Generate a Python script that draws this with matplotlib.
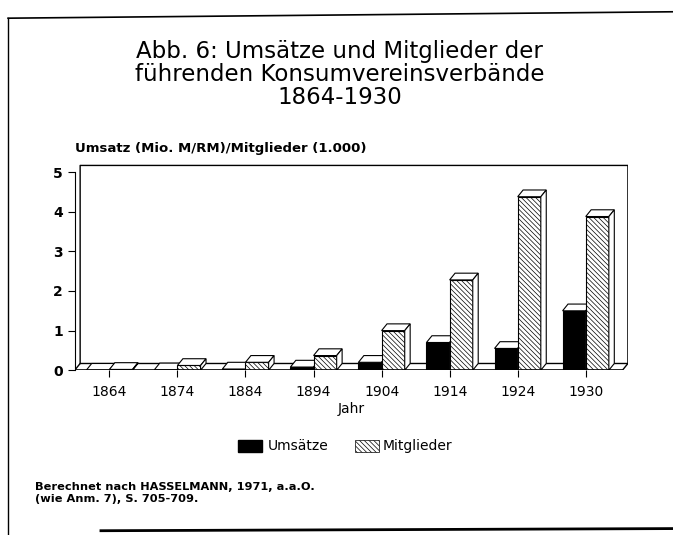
import numpy as np
import matplotlib
matplotlib.use("Agg")
import matplotlib.pyplot as plt
from matplotlib.patches import Polygon, Rectangle
from matplotlib.lines import Line2D

plt.rcParams['font.family'] = ['DejaVu Sans']
plt.rcParams['hatch.linewidth'] = 0.5

# Data
years = ["1864", "1874", "1884", "1894", "1904", "1914", "1924", "1930"]
umsaetze = [0.0, 0.01, 0.03, 0.08, 0.2, 0.7, 0.55, 1.5]
mitglieder = [0.02, 0.12, 0.2, 0.37, 1.0, 2.28, 4.38, 3.88]

HATCH = "\\\\\\\\\\\\\\"

fig = plt.figure(figsize=(6.73, 5.35), dpi=100)
ax = fig.add_axes([0.111, 0.308, 0.822, 0.385])

x = np.arange(len(years))
w = 0.34
dx, dy = 0.08, 0.17
xmin, xmax = -0.51, 7.62
ax.set_xlim(xmin, xmax)
ax.set_ylim(0, 5.2)


def bar3d(x0, v, hatch=None, face="black"):
    ax.add_patch(Rectangle((x0, 0), w, v, facecolor=face, edgecolor="black",
                           hatch=hatch, lw=0.8, zorder=3))
    top = [(x0, v), (x0 + dx, v + dy), (x0 + w + dx, v + dy), (x0 + w, v)]
    side = [(x0 + w, 0), (x0 + w + dx, dy), (x0 + w + dx, v + dy), (x0 + w, v)]
    ax.add_patch(Polygon(top, closed=True, facecolor="white", edgecolor="black", lw=0.8, zorder=3))
    ax.add_patch(Polygon(side, closed=True, facecolor="white", edgecolor="black", lw=0.8, zorder=3))


# back wall and floor
kw = dict(color="black", lw=1.0, zorder=1)
ax.plot([xmin + dx, xmin + dx, xmax, xmax, xmax - dx],
        [dy, 5 + dy, 5 + dy, dy, 0], **kw)
ax.plot([xmin, xmin + dx, xmax], [0, dy, dy], **kw)
ax.plot([xmin, xmax - dx], [0, 0], color="black", lw=1.2, zorder=4)

for i in range(len(years)):
    bar3d(x[i] - w, umsaetze[i], face="black")
    bar3d(x[i], mitglieder[i], hatch=HATCH, face="white")

for s in ["top", "right", "bottom"]:
    ax.spines[s].set_visible(False)
ax.spines["left"].set_bounds(0, 5)
ax.set_yticks([0, 1, 2, 3, 4, 5])
ax.set_xticks(x)
ax.set_xticklabels(years)
ax.tick_params(axis="both", labelsize=10, length=5, width=0.8)
ax.tick_params(axis="x", pad=6)
ax.set_xlabel("Jahr", fontsize=10, labelpad=2)
for t in ax.get_yticklabels():
    t.set_fontweight("bold")

fig.text(0.111, 0.71, "Umsatz (Mio. M/RM)/Mitglieder (1.000)", fontsize=9.5,
         fontweight="bold", ha="left", va="bottom")

fig.text(0.505, 0.86, "Abb. 6: Umsätze und Mitglieder der\nführenden Konsumvereinsverbände\n1864-1930",
         ha="center", va="center", fontsize=16.5, linespacing=1.0)

# legend
fig.patches.append(Rectangle((0.353, 0.155), 0.036, 0.022, transform=fig.transFigure,
                             facecolor="black", edgecolor="black"))
fig.text(0.398, 0.166, "Umsätze", fontsize=10, va="center")
fig.patches.append(Rectangle((0.527, 0.155), 0.036, 0.022, transform=fig.transFigure,
                             facecolor="white", edgecolor="black", hatch=HATCH, lw=0.5))
fig.text(0.568, 0.166, "Mitglieder", fontsize=10, va="center")

fig.text(0.052, 0.078, "Berechnet nach HASSELMANN, 1971, a.a.O.\n(wie Anm. 7), S. 705-709.",
         fontsize=8.2, fontweight="bold", ha="left", va="center", linespacing=1.25)

# page frame of the scan
fig.add_artist(Line2D([0.012, 1.0], [0.966, 0.978], color="black", lw=1.2))
fig.add_artist(Line2D([0.012, 0.012], [0.966, 0.0], color="black", lw=1.0))
fig.add_artist(Line2D([0.15, 1.0], [0.008, 0.012], color="black", lw=2.0))

fig.savefig("out.png", dpi=100)
